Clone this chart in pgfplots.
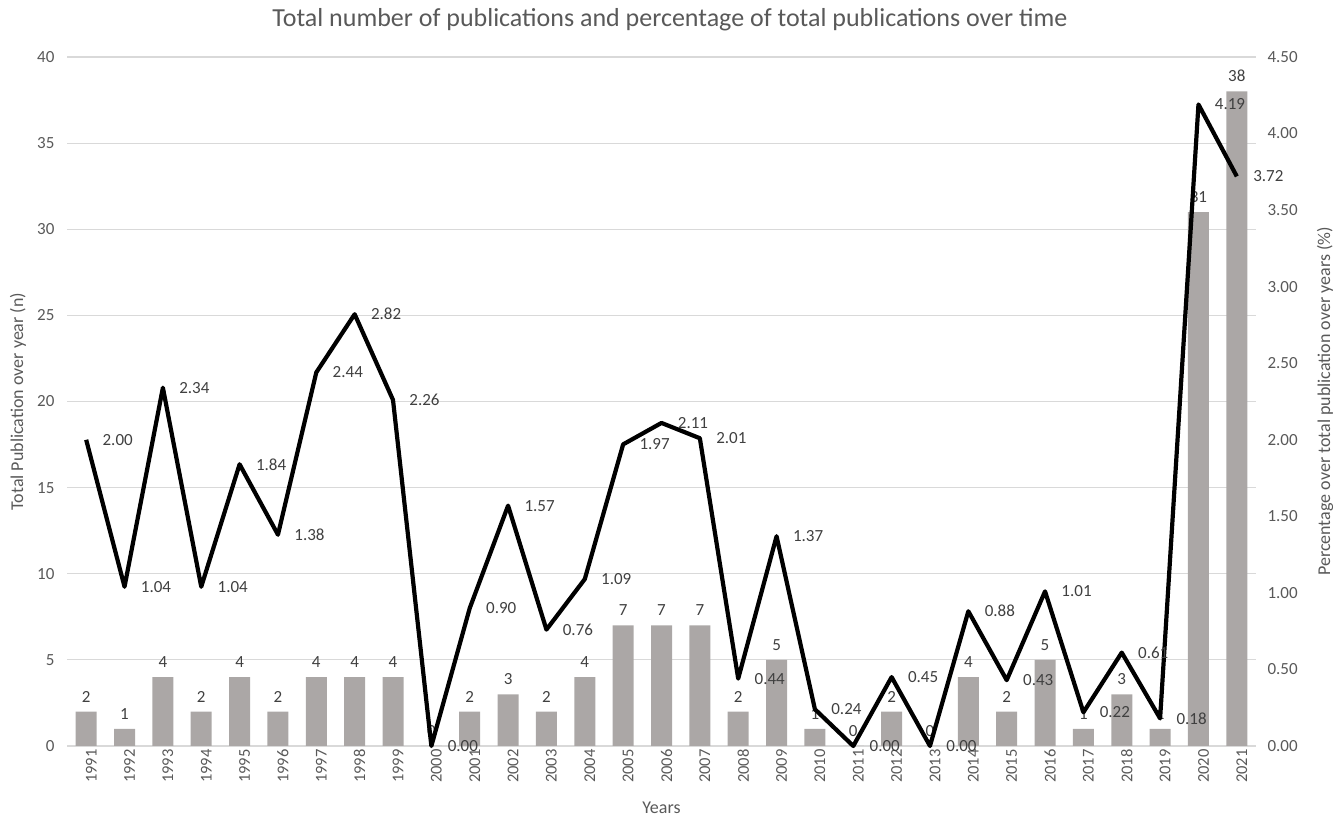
\documentclass[border=0pt]{standalone}
\usepackage{fontspec}
\setmainfont{Carlito}
\usepackage{pgfplots}
\pgfplotsset{compat=1.18}
\definecolor{bargray}{RGB}{171,167,166}
\definecolor{gridgray}{RGB}{217,217,217}
\definecolor{txt}{RGB}{89,89,89}
\definecolor{lbl}{RGB}{64,64,64}

\pgfplotstableread{
x n
0 2
1 1
2 4
3 2
4 4
5 2
6 4
7 4
8 4
9 0
10 2
11 3
12 2
13 4
14 7
15 7
16 7
17 2
18 5
19 1
20 0
21 2
22 0
23 4
24 2
25 5
26 1
27 3
28 1
29 31
30 38
}\counts

\pgfplotstableread{
x p
0 2.00
1 1.04
2 2.34
3 1.04
4 1.84
5 1.38
6 2.44
7 2.82
8 2.26
9 0.00
10 0.90
11 1.57
12 0.76
13 1.09
14 1.97
15 2.11
16 2.01
17 0.44
18 1.37
19 0.24
20 0.00
21 0.45
22 0.00
23 0.88
24 0.43
25 1.01
26 0.22
27 0.61
28 0.18
29 4.19
30 3.72
}\pct

\pgfplotsset{
  common/.style={
    at={(67pt,72pt)}, anchor=south west,
    scale only axis, width=1189pt, height=689pt,
    xmin=-0.5, xmax=30.5,
    major tick length=0pt,
    /pgf/number format/assume math mode=true,
    tick label style={font=\fontsize{17}{17}\selectfont, text=txt},
  }
}

\begin{document}
\begin{tikzpicture}[x=1pt,y=1pt]
\useasboundingbox (0,0) rectangle (1333,818);
\begin{axis}[common,
  ymin=0, ymax=40, ytick={0,5,...,40},
  axis y line*=left, axis x line*=bottom,
  y axis line style={draw=none},
  x axis line style={gridgray, line width=1.2pt},
  ymajorgrids, grid style={gridgray, line width=1.2pt},
  yticklabel style={xshift=-9pt},
  xtick={0,...,30},
  xticklabels={1991,1992,1993,1994,1995,1996,1997,1998,1999,2000,2001,2002,2003,2004,2005,2006,2007,2008,2009,2010,2011,2012,2013,2014,2015,2016,2017,2018,2019,2020,2021},
  xticklabel style={rotate=90, anchor=east, yshift=-5pt, font=\fontsize{16.5}{16.5}\selectfont},
  ylabel={Total Publication over year (n)},
  ylabel style={at={(axis description cs:-0.0412,0.5)}, anchor=center, rotate=0, font=\fontsize{18}{18}\selectfont, text=txt},
  xlabel={Years},
  xlabel style={at={(axis description cs:0.5,-0.0900)}, anchor=center, font=\fontsize{18}{18}\selectfont, text=txt},
  ybar, bar width=21pt,
  nodes near coords,
  every node near coord/.append style={font=\fontsize{17}{17}\selectfont, text=lbl, yshift=6pt},
]
\addplot[fill=bargray, draw=none] table[x=x, y=n] {\counts};
\end{axis}
\begin{axis}[common,
  ymin=0, ymax=4.5, ytick={0,0.5,...,4.5},
  axis y line*=right, axis x line=none,
  y axis line style={draw=none},
  yticklabel style={xshift=8pt, /pgf/number format/.cd, fixed, fixed zerofill, precision=2},
  ylabel={Percentage over total publication over years (\%)},
  ylabel style={at={(axis description cs:1.058,0.5)}, anchor=center, rotate=0, font=\fontsize{18}{18}\selectfont, text=txt},
  clip=false,
]
\addplot[black, line width=4.2pt, line join=round,
  nodes near coords={\pgfmathprintnumber[fixed,fixed zerofill,precision=2]{\pgfplotspointmeta}},
  every node near coord/.append style={anchor=west, xshift=11pt, font=\fontsize{17}{17}\selectfont, text=lbl}]
  table[x=x, y=p] {\pct};
\end{axis}
\node[font=\fontsize{26}{26}\selectfont, text=txt] at (670,798) {Total number of publications and percentage of total publications over time};
\end{tikzpicture}
\end{document}
